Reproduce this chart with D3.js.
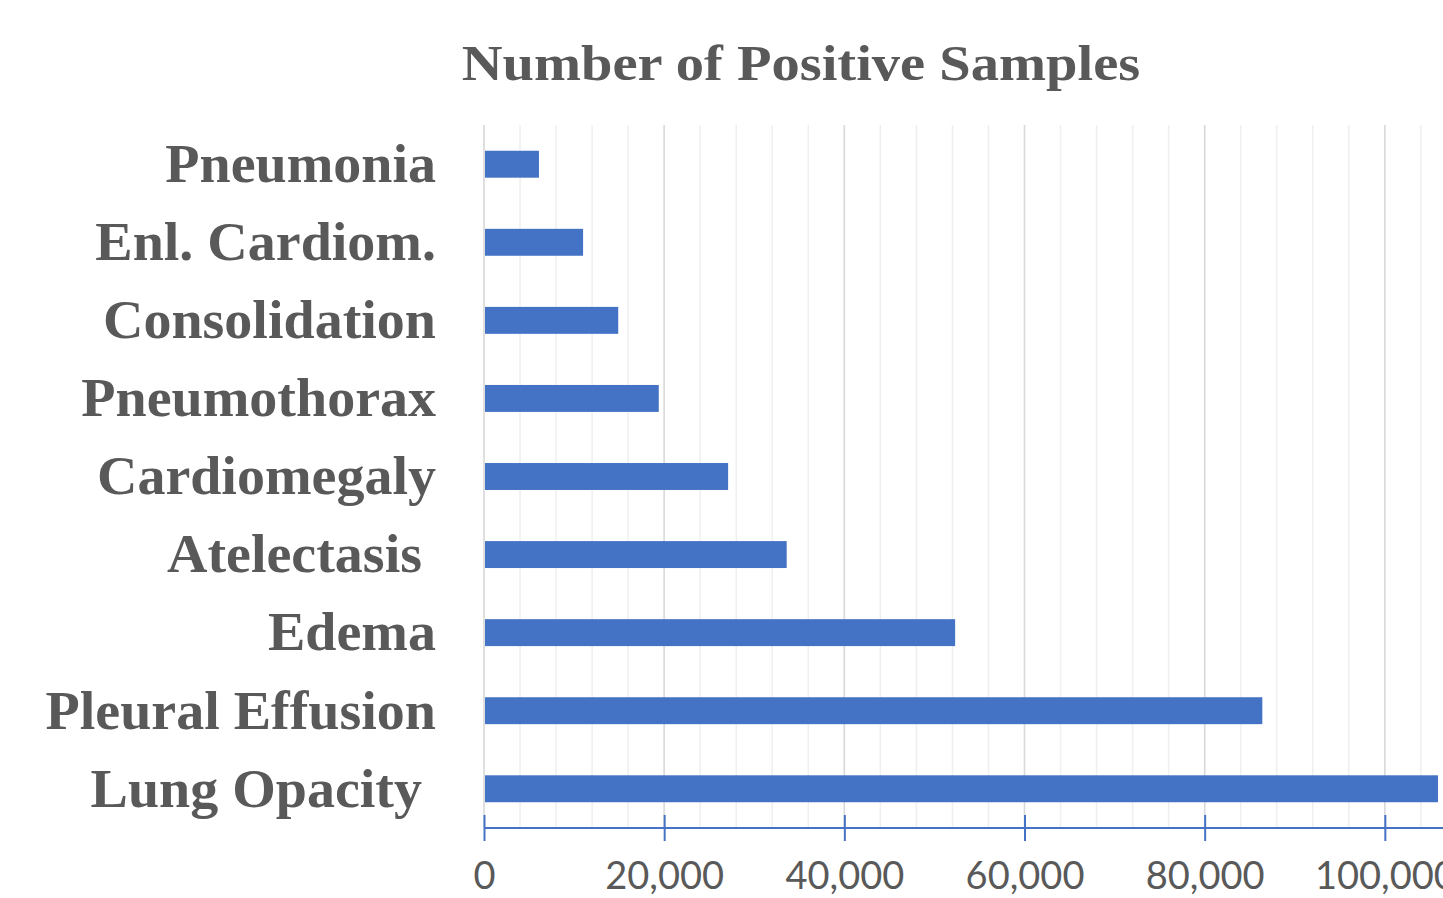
<!DOCTYPE html>
<html>
<head>
<meta charset="utf-8">
<script src="https://cdn.jsdelivr.net/npm/d3@7"></script>
<style>
  html, body { margin: 0; padding: 0; background: #ffffff; overflow: hidden; }
  svg { display: block; }
</style>
</head>
<body>
<svg id="chart" width="1443" height="898"></svg>
<script>
// Findings, top to bottom, with their positive sample counts
const categories = [
  "Pneumonia", "Enl. Cardiom.", "Consolidation", "Pneumothorax",
  "Cardiomegaly", "Atelectasis ", "Edema", "Pleural Effusion", "Lung Opacity "
];
const positives = [6100, 11000, 14900, 19400, 27100, 33600, 52300, 86400, 105900];
const majorTicks = [0, 20000, 40000, 60000, 80000, 100000];
const minorTicks = d3.range(0, 120001, 4000);
const title = "Number of Positive Samples";

const svg = d3.select("#chart");
const plotLeft = 484, plotRight = 1565, plotTop = 125, plotBottom = 828;

const x = d3.scaleLinear().domain([0, 120000]).range([plotLeft, plotRight]);
const y = d3.scaleBand().domain(categories).range([plotTop, plotBottom]).paddingInner(0.655).paddingOuter(0.33);

const textGray = "#595959";
const barBlue = "#4472C4";

// widen serif text a little so it sets like a broader book face
function widen(sel, factor) {
  sel.each(function () {
    const w = this.getComputedTextLength();
    d3.select(this).attr("textLength", w * factor).attr("lengthAdjust", "spacingAndGlyphs");
  });
}

// minor grid
svg.append("g").selectAll("line").data(minorTicks).join("line")
  .attr("x1", d => x(d)).attr("x2", d => x(d))
  .attr("y1", plotTop).attr("y2", plotBottom)
  .attr("stroke", "#efefef").attr("stroke-width", 1.5);

// major grid
svg.append("g").selectAll("line").data(majorTicks).join("line")
  .attr("x1", d => x(d)).attr("x2", d => x(d))
  .attr("y1", plotTop).attr("y2", plotBottom)
  .attr("stroke", "#d9d9d9").attr("stroke-width", 1.5);

// bars
svg.append("g").selectAll("rect").data(categories).join("rect")
  .attr("x", x(0) + 1)
  .attr("y", d => y(d))
  .attr("width", (d, i) => x(positives[i]) - x(0) - 1)
  .attr("height", y.bandwidth())
  .attr("fill", barBlue);

// x axis with ticks crossing the axis line
const axis = svg.append("g").attr("transform", `translate(0,${plotBottom})`)
  .call(d3.axisBottom(x).tickValues(majorTicks).tickSize(13).tickFormat(d3.format(",")));
axis.select(".domain").remove();
axis.append("line").attr("x1", plotLeft).attr("x2", 1443).attr("y1", 0).attr("y2", 0)
  .attr("stroke", barBlue).attr("stroke-width", 2);
axis.selectAll(".tick line").attr("y1", -13).attr("y2", 13)
  .attr("stroke", barBlue).attr("stroke-width", 2);
axis.selectAll(".tick text")
  .attr("y", 61).attr("dy", null)
  .attr("fill", textGray)
  .style("font-family", "Lato, 'Open Sans', sans-serif")
  .style("font-size", "38px");

// category labels
const labels = svg.append("g").selectAll("text").data(categories).join("text")
  .attr("x", 436)
  .attr("y", d => y(d) + y.bandwidth() / 2)
  .attr("dy", "0.33em")
  .attr("text-anchor", "end")
  .attr("fill", textGray)
  .style("font-family", "'Liberation Serif', serif")
  .style("font-weight", "bold")
  .style("font-size", "54px")
  .style("white-space", "pre")
  .text(d => d);
widen(labels, 1.037);

// title
const titleText = svg.append("text")
  .attr("x", 801).attr("y", 80)
  .attr("text-anchor", "middle")
  .attr("fill", textGray)
  .style("font-family", "'Liberation Serif', serif")
  .style("font-weight", "bold")
  .style("font-size", "50px")
  .text(title);
widen(titleText, 1.13);
</script>
</body>
</html>
